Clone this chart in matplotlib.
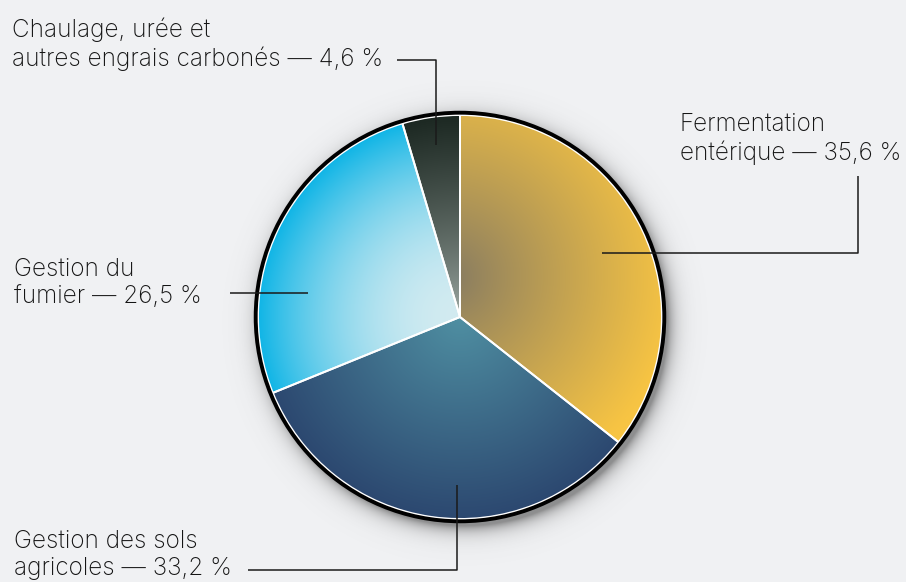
import numpy as np
import matplotlib
matplotlib.use("Agg")
import matplotlib.pyplot as plt
from matplotlib.colors import to_rgb
from matplotlib.patches import Circle

plt.rcParams['font.family'] = ['Inter', 'Roboto', 'DejaVu Sans']

# ---- data ----
categories = ["Fermentation entérique", "Gestion des sols agricoles",
              "Gestion du fumier", "Chaulage, urée et autres engrais carbonés"]
values = [35.6, 33.2, 26.5, 4.6]
labels = ["Fermentation\nentérique — 35,6 %",
          "Gestion des sols\nagricoles — 33,2 %",
          "Gestion du\nfumier — 26,5 %",
          "Chaulage, urée et\nautres engrais carbonés — 4,6 %"]
inner_colors = ["#857a62", "#4f8fa2", "#d2ebf1", "#a8b3ae"]
outer_colors = ["#f7c443", "#2c4870", "#10b5e6", "#1c2822"]
gammas = [0.9, 1.0, 2.0, 0.7]

BG = "#f0f1f3"
W, H = 906, 582
CX, CY, R = 460, 317, 202
# gradient focus (offset from centre) and reach for each slice, in px
grad_focus = [(-10, -40, 225), (0, 0, R), (0, 0, R), (0, 0, R)]

fig = plt.figure(figsize=(W / 100, H / 100), dpi=100, facecolor=BG)
ax = fig.add_axes([0, 0, 1, 1])

# ---- shadow ----
pad = 50
xs = np.linspace(CX - R - pad, CX + R + pad, 600)
ys = np.linspace(CY - R - pad, CY + R + pad, 600)
XX, YY = np.meshgrid(xs, ys)
d = np.hypot(XX - (CX + 5), YY - (CY + 6))
alpha = np.clip(0.6 * np.exp(-np.clip(d - (R + 1), 0, None) / 8.0), 0, 1)
alpha[d < R] = 0.6
shadow = np.zeros(XX.shape + (4,))
shadow[..., :3] = 0.3
shadow[..., 3] = alpha
ax.imshow(shadow, extent=[xs[0], xs[-1], ys[-1], ys[0]], origin='upper',
          zorder=1, interpolation='bilinear')

# ---- pie ----
wedges, _ = ax.pie(values, startangle=-90, counterclock=True,
                   center=(CX, CY), radius=R, frame=True,
                   wedgeprops=dict(edgecolor='white', linewidth=1.4, facecolor='none', zorder=4))
ax.set_xlim(0, W)
ax.set_ylim(H, 0)
ax.set_aspect('equal')
ax.axis('off')
ax.set_facecolor(BG)

gx = np.linspace(CX - R, CX + R, 500)
gy = np.linspace(CY - R, CY + R, 500)
GX, GY = np.meshgrid(gx, gy)
for w, ci, co, g, (fx, fy, fr) in zip(wedges, inner_colors, outer_colors, gammas, grad_focus):
    rr = np.clip(np.hypot(GX - (CX + fx), GY - (CY + fy)) / fr, 0, 1)
    t = rr ** g
    c0 = np.array(to_rgb(ci)); c1 = np.array(to_rgb(co))
    img = c0[None, None, :] * (1 - t[..., None]) + c1[None, None, :] * t[..., None]
    im = ax.imshow(img, extent=[gx[0], gx[-1], gy[-1], gy[0]], origin='upper',
                   zorder=3, interpolation='bilinear')
    im.set_clip_path(w)

# rings
ax.add_patch(Circle((CX, CY), R + 0.5, fill=False, edgecolor='white', linewidth=1.2, zorder=5))
ax.add_patch(Circle((CX, CY), R + 2.3, fill=False, edgecolor='black', linewidth=2.8, zorder=6))

# ---- leader lines ----
lc = "#1a1a1a"
lw = 1.1
ax.plot([602, 858, 858], [253, 253, 176], color=lc, lw=lw, zorder=7, solid_capstyle='butt')
ax.plot([457, 457, 248], [485, 570, 570], color=lc, lw=lw, zorder=7, solid_capstyle='butt')
ax.plot([230, 308], [293, 293], color=lc, lw=lw, zorder=7, solid_capstyle='butt')
ax.plot([397, 436, 436], [60, 60, 145], color=lc, lw=lw, zorder=7, solid_capstyle='butt')

# ---- labels ----
tc = "#141414"
fs = 17.5
lsp = 1.23
kw = dict(fontsize=fs, color=tc, ha='left', va='baseline', linespacing=lsp,
          zorder=8, fontweight='light')
ax.text(680, 160, labels[0], **kw)
ax.text(14, 575, labels[1], **kw)
ax.text(14, 303, labels[2], **kw)
ax.text(12, 66, labels[3], **kw)

fig.savefig("out.png", dpi=100, facecolor=BG)
